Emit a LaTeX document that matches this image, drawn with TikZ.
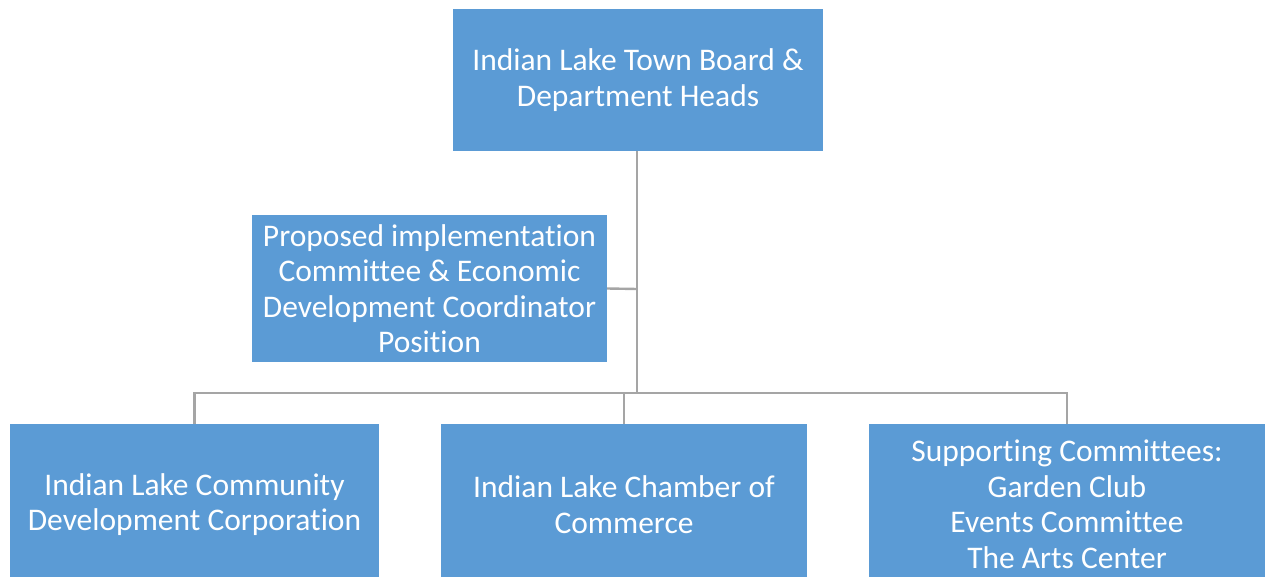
\documentclass[tikz,border=0pt]{standalone}
\usepackage{fontspec}
\setmainfont{Carlito}[RawFeature={-liga;-clig;-dlig;-calt}]
\definecolor{boxblue}{HTML}{5B9BD5}
\definecolor{linegray}{HTML}{A5A5A5}
\begin{document}
\begin{tikzpicture}[x=1pt,y=-1pt,
  orgbox/.style={fill=boxblue,draw=none,text=white,align=center,inner sep=0pt,
    font=\fontsize{31.5}{35.5}\selectfont},
  link/.style={draw=linegray,line width=2.4pt}]
\useasboundingbox (0,0) rectangle (1265,577);
% boxes, sized by their corners; the bottom row runs past the lower edge
\node[orgbox,minimum width=370,minimum height=142] (top) at (638,80) {Indian Lake Town Board \&\\Department Heads};
\node[orgbox,minimum width=355,minimum height=147] (mid) at (429.5,288.5) {Proposed implementation\\Committee \& Economic\\Development Coordinator\\Position};
\node[orgbox,minimum width=369,minimum height=161] (cdc) at (194.5,504.5) {Indian Lake Community\\Development Corporation};
\node[orgbox,minimum width=366,minimum height=161] (coc) at (624,504.5) {Indian Lake Chamber of\\Commerce};
\node[orgbox,minimum width=396,minimum height=161] (sup) at (1067,504.5) {Supporting Committees:\\Garden Club\\Events Committee\\The Arts Center};
% connectors
\coordinate (bus) at (637,393);
\coordinate (tap) at (637,289);
\draw[link] (top.south -| bus) -- (bus);
\draw[link] (mid.east) -- (tap);
\draw[link] (cdc.north) |- (bus) -| (sup.north);
\draw[link] (coc.north) -- (coc.north |- bus);
\end{tikzpicture}
\end{document}
